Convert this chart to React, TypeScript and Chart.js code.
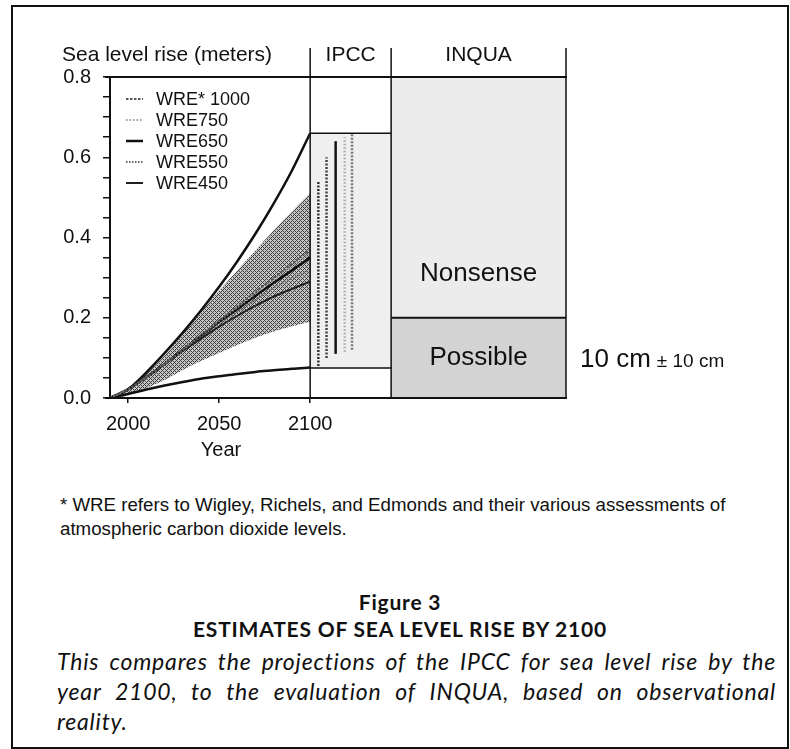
import React, { useEffect, useRef } from 'react';
import { Chart, registerables } from 'chart.js';

Chart.register(...registerables);

// ---------------- data ----------------
const YEARS = [1990, 2000, 2010, 2020, 2030, 2040, 2050, 2060, 2070, 2080, 2090, 2100];
const UPPER_ENVELOPE = [0, 0.022, 0.064, 0.112, 0.163, 0.218, 0.277, 0.341, 0.41, 0.485, 0.567, 0.66];
const LOWER_ENVELOPE = [0, 0.01, 0.021, 0.031, 0.04, 0.048, 0.054, 0.06, 0.065, 0.069, 0.073, 0.076];
const BAND_UPPER = [0, 0.02, 0.06, 0.105, 0.16, 0.215, 0.268, 0.318, 0.368, 0.418, 0.465, 0.51];
const BAND_LOWER = [0, 0.01, 0.025, 0.045, 0.07, 0.092, 0.112, 0.132, 0.15, 0.166, 0.179, 0.19];

const SCENARIOS = ['WRE* 1000', 'WRE750', 'WRE650', 'WRE550', 'WRE450'];
const WRE1000 = [0, 0.022, 0.052, 0.085, 0.12, 0.156, 0.193, 0.229, 0.265, 0.3, 0.335, 0.37];
const WRE750 = [0, 0.022, 0.052, 0.085, 0.12, 0.156, 0.192, 0.226, 0.261, 0.295, 0.328, 0.36];
const WRE650 = [0, 0.022, 0.052, 0.085, 0.12, 0.155, 0.19, 0.222, 0.255, 0.287, 0.318, 0.35];
const WRE550 = [0, 0.022, 0.052, 0.085, 0.12, 0.153, 0.185, 0.215, 0.245, 0.275, 0.298, 0.32];
const WRE450 = [0, 0.022, 0.052, 0.084, 0.117, 0.148, 0.178, 0.205, 0.23, 0.253, 0.272, 0.29];

// IPCC ranges for 2100, per scenario (same order as SCENARIOS)
const RANGE_YEARS = [2123, 2119, 2114, 2109, 2104.5];
const RANGE_LOW = [0.12, 0.115, 0.11, 0.1, 0.08];
const RANGE_HIGH = [0.66, 0.65, 0.64, 0.6, 0.54];

const IPCC_RANGE = [0.075, 0.66];
const INQUA_NONSENSE = [0.2, 0.8];
const INQUA_POSSIBLE = [0, 0.2];
const INQUA_ESTIMATE = '10 cm';
const INQUA_ERROR = '± 10 cm';

const X_TICKS = [2000, 2050, 2100];
const Y_TICK_LABELS = ['0.0', '0.2', '0.4', '0.6', '0.8'];

// ---------------- layout (axis units) ----------------
const X_MIN = 1990;
const IPCC_START = 2100;
const IPCC_END = 2144.5;
const X_MAX = 2240.6;
const Y_MIN = 0;
const Y_MAX = 0.8;
const NONSENSE_LABEL_Y = 0.31;

const FONT = '"Liberation Sans", Arial, Helvetica, sans-serif';
const CAPTION_FONT = 'Lato, "Open Sans", sans-serif';

const STYLES = [
  { color: '#555', dash: [2.5, 1.5], width: 2 },
  { color: '#9a9a9a', dash: [1.5, 2], width: 2 },
  { color: '#111', dash: [], width: 2.5 },
  { color: '#666', dash: [1.5, 1.5], width: 2 },
  { color: '#222', dash: [], width: 2 },
];
const RANGE_STYLES = [
  { color: '#777', dash: [2, 1.5] },
  { color: '#aaa', dash: [1.5, 2] },
  { color: '#111', dash: [] },
  { color: '#444', dash: [2, 1.5] },
  { color: '#333', dash: [2, 1.5] },
];

const pts = (ys: number[]) => YEARS.map((x, i) => ({ x, y: ys[i] }));

export default function App() {
  const ref = useRef<HTMLCanvasElement>(null);

  useEffect(() => {
    const canvas = ref.current!;
    const pc = document.createElement('canvas');
    pc.width = 4;
    pc.height = 4;
    const p = pc.getContext('2d')!;
    p.fillStyle = 'rgb(200,200,200)';
    p.fillRect(0, 0, 4, 4);
    p.fillStyle = 'rgb(60,60,60)';
    for (let x = 0; x < 4; x++) {
      for (let y = 0; y < 4; y++) {
        if ((x + y) % 4 === 0 || (x - y + 4) % 4 === 0) p.fillRect(x, y, 1, 1);
      }
    }
    const pattern = canvas.getContext('2d')!.createPattern(pc, 'repeat')!;

    const scenarioSeries = [WRE1000, WRE750, WRE650, WRE550, WRE450];

    const datasets: any[] = [];
    scenarioSeries.forEach((s, i) => {
      datasets.push({
        label: SCENARIOS[i],
        data: pts(s),
        borderColor: STYLES[i].color,
        borderDash: STYLES[i].dash,
        borderWidth: STYLES[i].width,
        pointRadius: 0,
        cubicInterpolationMode: 'monotone',
        fill: false,
      });
    });
    RANGE_YEARS.forEach((yr, i) => {
      datasets.push({
        label: SCENARIOS[i] + ' range',
        data: [
          { x: yr, y: RANGE_LOW[i] },
          { x: yr, y: RANGE_HIGH[i] },
        ],
        borderColor: RANGE_STYLES[i].color,
        borderDash: RANGE_STYLES[i].dash,
        borderWidth: 2.5,
        pointRadius: 0,
        tension: 0,
        fill: false,
      });
    });
    datasets.push({
      label: 'upper',
      data: pts(UPPER_ENVELOPE),
      borderColor: '#111',
      borderWidth: 2.5,
      pointRadius: 0,
      cubicInterpolationMode: 'monotone',
      fill: false,
    });
    datasets.push({
      label: 'lower',
      data: pts(LOWER_ENVELOPE),
      borderColor: '#111',
      borderWidth: 2.5,
      pointRadius: 0,
      cubicInterpolationMode: 'monotone',
      fill: false,
    });
    datasets.push({
      label: 'band upper',
      data: pts(BAND_UPPER),
      borderWidth: 0,
      borderColor: 'rgba(0,0,0,0)',
      pointRadius: 0,
      cubicInterpolationMode: 'monotone',
      fill: '+1',
      backgroundColor: pattern,
    });
    datasets.push({
      label: 'band lower',
      data: pts(BAND_LOWER),
      borderWidth: 0,
      borderColor: 'rgba(0,0,0,0)',
      pointRadius: 0,
      cubicInterpolationMode: 'monotone',
      fill: false,
    });

    const panels = {
      id: 'panels',
      beforeDatasetsDraw(chart: any) {
        const { ctx, scales } = chart;
        const x = scales.x;
        const y = scales.y;
        ctx.save();
        ctx.fillStyle = '#efefef';
        ctx.fillRect(
          x.getPixelForValue(IPCC_START),
          y.getPixelForValue(IPCC_RANGE[1]),
          x.getPixelForValue(IPCC_END) - x.getPixelForValue(IPCC_START),
          y.getPixelForValue(IPCC_RANGE[0]) - y.getPixelForValue(IPCC_RANGE[1])
        );
        ctx.fillStyle = '#ececec';
        ctx.fillRect(
          x.getPixelForValue(IPCC_END),
          y.getPixelForValue(INQUA_NONSENSE[1]),
          x.getPixelForValue(X_MAX) - x.getPixelForValue(IPCC_END),
          y.getPixelForValue(INQUA_NONSENSE[0]) - y.getPixelForValue(INQUA_NONSENSE[1])
        );
        ctx.fillStyle = '#d3d3d3';
        ctx.fillRect(
          x.getPixelForValue(IPCC_END),
          y.getPixelForValue(INQUA_POSSIBLE[1]),
          x.getPixelForValue(X_MAX) - x.getPixelForValue(IPCC_END),
          y.getPixelForValue(INQUA_POSSIBLE[0]) - y.getPixelForValue(INQUA_POSSIBLE[1])
        );
        ctx.restore();
      },
      afterDatasetsDraw(chart: any) {
        const { ctx, scales, chartArea } = chart;
        const x = scales.x;
        const y = scales.y;
        const x0 = x.getPixelForValue(IPCC_START);
        const x1 = x.getPixelForValue(IPCC_END);
        const x2 = x.getPixelForValue(X_MAX);
        const yTop = y.getPixelForValue(Y_MAX);
        const yBot = y.getPixelForValue(Y_MIN);
        ctx.save();
        ctx.strokeStyle = '#111';
        ctx.lineWidth = 2;
        ctx.beginPath();
        ctx.moveTo(chartArea.left - 5, yTop);
        ctx.lineTo(x2 + 1, yTop);
        ctx.moveTo(chartArea.left - 5, yBot);
        ctx.lineTo(x2 + 1, yBot);
        ctx.stroke();
        ctx.lineWidth = 1.5;
        ctx.beginPath();
        [x0, x1, x2].forEach((px) => {
          ctx.moveTo(px, yTop - 29);
          ctx.lineTo(px, yBot);
        });
        ctx.stroke();
        ctx.beginPath();
        ctx.moveTo(x0, y.getPixelForValue(IPCC_RANGE[1]));
        ctx.lineTo(x1, y.getPixelForValue(IPCC_RANGE[1]));
        ctx.moveTo(x0, y.getPixelForValue(IPCC_RANGE[0]));
        ctx.lineTo(x1, y.getPixelForValue(IPCC_RANGE[0]));
        ctx.stroke();
        ctx.lineWidth = 2;
        ctx.beginPath();
        ctx.moveTo(x1, y.getPixelForValue(INQUA_POSSIBLE[1]));
        ctx.lineTo(x2, y.getPixelForValue(INQUA_POSSIBLE[1]));
        ctx.stroke();

        ctx.fillStyle = '#111';
        ctx.textBaseline = 'middle';
        ctx.font = `21px ${FONT}`;
        ctx.textAlign = 'left';
        ctx.fillText('Sea level rise (meters)', 62, yTop - 22);
        ctx.textAlign = 'center';
        ctx.fillText('IPCC', (x0 + x1) / 2, yTop - 22);
        ctx.fillText('INQUA', (x1 + x2) / 2, yTop - 22);
        ctx.font = `20px ${FONT}`;
        ctx.fillText('Year', x.getPixelForValue(2051), yBot + 52);

        ctx.font = `26px ${FONT}`;
        const mid = (x1 + x2) / 2;
        ctx.fillText('Nonsense', mid, y.getPixelForValue(NONSENSE_LABEL_Y));
        const yPos = y.getPixelForValue((INQUA_POSSIBLE[0] + INQUA_POSSIBLE[1]) / 2);
        ctx.fillText('Possible', mid, yPos);
        ctx.textAlign = 'left';
        ctx.textBaseline = 'alphabetic';
        const base = yPos + 9;
        ctx.fillText(INQUA_ESTIMATE, x2 + 14, base);
        const w = ctx.measureText(INQUA_ESTIMATE).width;
        ctx.font = `19px ${FONT}`;
        ctx.fillText(INQUA_ERROR, x2 + 14 + w + 6, base);

        ctx.font = `18px ${FONT}`;
        ctx.textBaseline = 'middle';
        const lx = chartArea.left + 16;
        const ly = chartArea.top + 22;
        SCENARIOS.forEach((name, i) => {
          const yy = ly + i * 21;
          ctx.strokeStyle = STYLES[i].color;
          ctx.lineWidth = STYLES[i].width;
          ctx.setLineDash(STYLES[i].dash);
          ctx.beginPath();
          ctx.moveTo(lx, yy);
          ctx.lineTo(lx + 17, yy);
          ctx.stroke();
          ctx.setLineDash([]);
          ctx.fillStyle = '#111';
          ctx.fillText(name, lx + 30, yy + 1);
        });
        ctx.restore();
      },
    };

    const chart = new Chart(canvas, {
      type: 'line',
      data: { datasets },
      options: {
        responsive: false,
        animation: false,
        devicePixelRatio: 1,
        layout: { padding: { left: 0, top: 77, right: 790 - 566, bottom: 0 } },
        plugins: {
          legend: { display: false },
          tooltip: { enabled: false },
          title: { display: false },
        },
        scales: {
          x: {
            type: 'linear',
            min: X_MIN,
            max: X_MAX,
            afterBuildTicks: (axis: any) => {
              axis.ticks = X_TICKS.map((value) => ({ value }));
            },
            afterFit: (axis: any) => {
              axis.height = 72;
            },
            ticks: {
              autoSkip: false,
              maxRotation: 0,
              color: '#111',
              padding: 9,
              font: { size: 20, family: FONT },
              callback: (v: any) => String(v),
            },
            grid: {
              drawOnChartArea: false,
              drawTicks: true,
              tickLength: 5,
              color: '#111',
              lineWidth: 1.5,
            },
            border: { display: true, color: '#111', width: 2 },
          },
          y: {
            type: 'linear',
            min: Y_MIN,
            max: Y_MAX,
            afterFit: (axis: any) => {
              axis.width = 110;
            },
            ticks: {
              stepSize: 0.05,
              autoSkip: false,
              color: '#111',
              padding: 12,
              font: { size: 20, family: FONT },
              callback: (v: any) => {
                const k = Math.round(v / 0.2);
                return Math.abs(v / 0.2 - k) < 1e-6 ? Y_TICK_LABELS[k] : '';
              },
            },
            grid: {
              drawOnChartArea: false,
              drawTicks: true,
              tickLength: 7,
              color: '#111',
              lineWidth: 1.5,
            },
            border: { display: true, color: '#111', width: 2 },
          },
        },
      },
      plugins: [panels],
    } as any);
    return () => chart.destroy();
  }, []);

  return (
    <div style={{ position: 'absolute', left: 0, top: 0, width: 790, height: 749, background: '#fff', overflow: 'hidden' }}>
      <div
        style={{
          position: 'absolute',
          left: 11,
          top: 5,
          width: 778,
          height: 744,
          border: '2px solid #111',
          boxSizing: 'border-box',
        }}
      />
      <canvas
        ref={ref}
        width={790}
        height={470}
        style={{ position: 'absolute', left: 0, top: 0, width: 790, height: 470 }}
      />
      <div
        style={{
          position: 'absolute',
          left: 60,
          top: 493,
          width: 705,
          fontFamily: FONT,
          fontSize: 18.7,
          lineHeight: '24px',
          color: '#111',
        }}
      >
        * WRE refers to Wigley, Richels, and Edmonds and their various assessments of atmospheric carbon dioxide levels.
      </div>
      <div
        style={{
          position: 'absolute',
          left: 12,
          width: 776,
          top: 588,
          textAlign: 'center',
          fontFamily: CAPTION_FONT,
          fontWeight: 700,
          fontSize: 21,
          letterSpacing: '0.8px',
          lineHeight: '27px',
          color: '#111',
        }}
      >
        <div>Figure 3</div>
        <div>ESTIMATES OF SEA LEVEL RISE BY 2100</div>
      </div>
      <div
        style={{
          position: 'absolute',
          left: 57,
          width: 719,
          top: 646,
          textAlign: 'justify',
          fontFamily: CAPTION_FONT,
          fontStyle: 'italic',
          fontSize: 23,
          letterSpacing: '0.8px',
          lineHeight: '30px',
          color: '#111',
        }}
      >
        This compares the projections of the IPCC for sea level rise by the year 2100, to the evaluation of INQUA,
        based on observational reality.
      </div>
    </div>
  );
}
